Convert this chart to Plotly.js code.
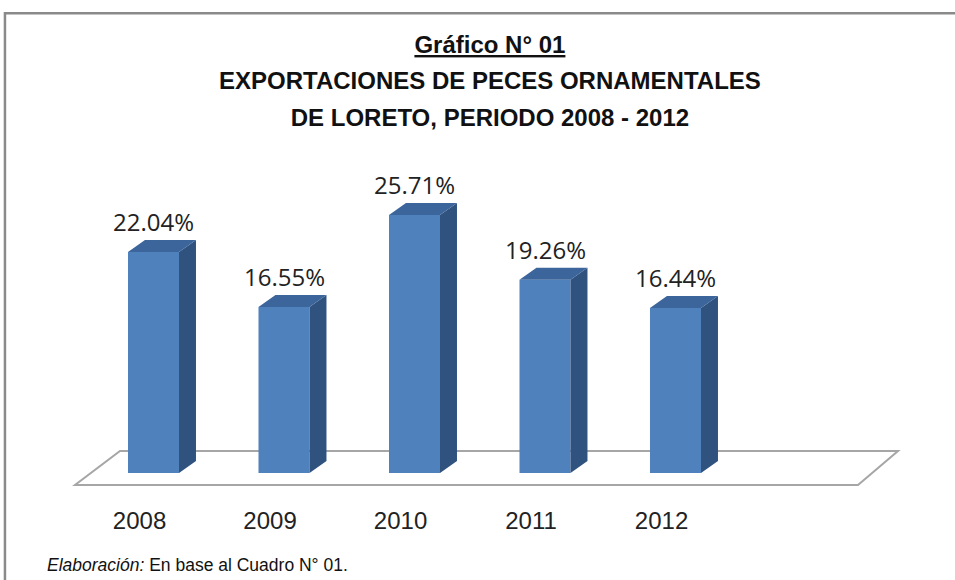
<!DOCTYPE html>
<html>
<head>
<meta charset="utf-8">
<script src="https://cdn.plot.ly/plotly-3.0.1.min.js"></script>
<style>html,body{margin:0;padding:0;background:#fff;}#chart{width:955px;height:580px;}</style>
</head>
<body>
<div id="chart"></div>
<script>
// ---- data ----
const years = ["2008", "2009", "2010", "2011", "2012"];
const shares = [22.04, 16.55, 25.71, 19.26, 16.44];
const titleLines = ["Gráfico N° 01", "EXPORTACIONES DE PECES ORNAMENTALES", "DE LORETO, PERIODO 2008 - 2012"];
const footerLabel = "Elaboración:";
const footerText = "En base al Cuadro N° 01.";

// ---- geometry / style ----
const W = 0.391;     // front face width (category units)
const DX = 0.130;    // depth offset x (category units)
const DY = 1.2;      // depth offset y (value units)
const FONT = "Liberation Sans, Arial, sans-serif";
const idx = years.map((_, i) => i);

const sideX = [], sideY = [], topX = [], topY = [];
idx.forEach(i => {
  const v = shares[i];
  const r = i + W / 2, l = i - W / 2;
  sideX.push(r, r + DX, r + DX, r, r, null);
  sideY.push(0, DY, v + DY, v, 0, null);
  topX.push(l, r, r + DX, l + DX, l, null);
  topY.push(v, v, v + DY, v + DY, v, null);
});

const traces = [
  {type: "bar", x: idx, y: shares, width: W, marker: {color: "#4f81bd", line: {width: 0}}, hoverinfo: "skip"},
  {type: "scatter", mode: "lines", x: sideX, y: sideY, fill: "toself", fillcolor: "#30527f", line: {width: 0}, hoverinfo: "skip"},
  {type: "scatter", mode: "lines", x: topX, y: topY, fill: "toself", fillcolor: "#3c659b", line: {width: 0}, hoverinfo: "skip"}
];

const annotations = idx.map(i => ({
  x: i, y: shares[i] + DY, xref: "x", yref: "y", xanchor: "center", yanchor: "bottom",
  text: shares[i].toFixed(2) + "%", showarrow: false,
  font: {family: "Open Sans, sans-serif", size: 24, color: "#222"}
}));
annotations.push({
  xref: "paper", yref: "paper", x: -0.0175, y: -0.186, xanchor: "left", yanchor: "middle",
  text: "<i>" + footerLabel + "</i> " + footerText, showarrow: false,
  font: {family: FONT, size: 17.5, color: "#111"}
});

const layout = {
  width: 955, height: 580,
  margin: {l: 60, r: 35, t: 150, b: 80},
  paper_bgcolor: "#fff", plot_bgcolor: "rgba(0,0,0,0)",
  showlegend: false,
  title: {
    text: "<span style='font-size:24px'><u>" + titleLines[0] + "</u></span><br>" +
          "<span style='font-size:24px'>" + titleLines[1] + "</span><br>" +
          "<span style='font-size:24px'>" + titleLines[2] + "</span>",
    font: {family: FONT, size: 28, color: "#111", weight: "bold"},
    x: 0.513, xref: "container", xanchor: "center",
    y: 1 - 53 / 580, yref: "container", yanchor: "top"
  },
  xaxis: {
    range: [-0.7165, 5.8736], showgrid: false, zeroline: false, showline: false,
    tickvals: idx.map(i => i - 0.107), ticktext: years, ticks: "",
    tickfont: {family: FONT, size: 24, color: "#222"}, ticklabelstandoff: 4,
    fixedrange: true
  },
  yaxis: {
    range: [-2.69, 32.2], visible: false, showgrid: false, zeroline: false, fixedrange: true
  },
  shapes: [
    {type: "path", xref: "x", yref: "y", layer: "below",
     path: "M -0.6015 -1.196 L 5.3985 -1.196 L 5.705 2.193 L -0.2567 2.193 Z",
     fillcolor: "#ffffff", line: {color: "#a6a6a6", width: 2}},
    {type: "rect", xref: "paper", yref: "paper", layer: "above",
     x0: -0.064, x1: 1.06, y0: -0.3, y1: 1.391,
     fillcolor: "rgba(0,0,0,0)", line: {color: "#8a8a8a", width: 2.5}}
  ],
  annotations: annotations
};

Plotly.newPlot("chart", traces, layout, {displayModeBar: false, staticPlot: true});
</script>
</body>
</html>
